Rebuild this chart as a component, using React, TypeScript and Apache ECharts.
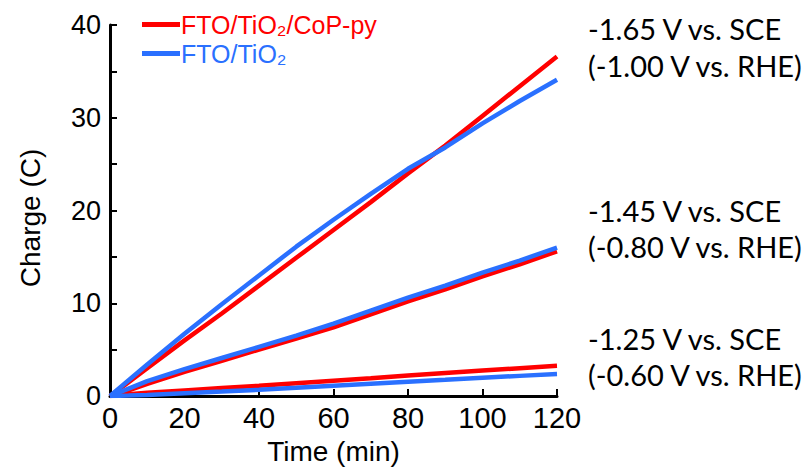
import React, { useEffect, useRef } from "react";
import * as echarts from "echarts";

const times = [0, 5, 10, 20, 30, 40, 50, 60, 70, 80, 90, 100, 110, 120];

// -1.65 V vs. SCE
const copHigh = [0, 1.5, 3.0, 6.0, 8.9, 11.9, 14.9, 17.9, 20.9, 24.0, 27.0, 30.2, 33.4, 36.6];
const tioHigh = [0, 1.7, 3.4, 6.7, 9.9, 13.0, 16.1, 19.0, 21.8, 24.5, 26.8, 29.4, 31.8, 34.1];
// -1.45 V vs. SCE
const copMid = [0, 0.6, 1.3, 2.6, 3.8, 5.0, 6.2, 7.4, 8.8, 10.2, 11.5, 12.9, 14.2, 15.6];
const tioMid = [0, 0.8, 1.6, 2.9, 4.1, 5.3, 6.5, 7.8, 9.2, 10.6, 11.9, 13.3, 14.6, 16.0];
// -1.25 V vs. SCE
const copLow = [0, 0.2, 0.35, 0.6, 0.85, 1.1, 1.38, 1.65, 1.92, 2.2, 2.48, 2.75, 3.0, 3.25];
const tioLow = [0, 0.05, 0.12, 0.3, 0.48, 0.67, 0.88, 1.1, 1.32, 1.54, 1.75, 1.97, 2.17, 2.37];

const seriesNames = ["FTO/TiO₂/CoP-py", "FTO/TiO₂"];
const xTicks = [0, 20, 40, 60, 80, 100, 120];
const yTicks = [0, 10, 20, 30, 40];
const annotations = [
  ["-1.65 V vs. SCE", "(-1.00 V vs. RHE)"],
  ["-1.45 V vs. SCE", "(-0.80 V vs. RHE)"],
  ["-1.25 V vs. SCE", "(-0.60 V vs. RHE)"],
];
const annotationY = [[31, 68], [213, 249], [341, 377]];

const RED = "#ff0000";
const BLUE = "#2a70ff";

const pair = (ys: number[]) => times.map((t, i) => [t, ys[i]]);

export default function App() {
  const ref = useRef<HTMLDivElement>(null);
  useEffect(() => {
    document.body.style.margin = "0";
    const chart = echarts.init(ref.current!, null, { renderer: "svg" });
    const mkLine = (name: string, color: string, ys: number[]) => ({
      name,
      type: "line",
      data: pair(ys),
      showSymbol: false,
      symbol: "none",
      lineStyle: { color, width: 4.5 },
      itemStyle: { color },
    });
    const annText: any[] = [];
    annotations.forEach((lines, gi) => {
      lines.forEach((txt, li) => {
        annText.push({
          type: "text",
          left: 588,
          top: annotationY[gi][li] - 17,
          style: {
            text: txt,
            font: "29px Lato",
            fill: "#000",
          },
        });
      });
    });
    chart.setOption({
      animation: false,
      backgroundColor: "#fff",
      grid: {
        left: 110,
        right: 248,
        top: 25,
        bottom: 72,
        containLabel: false,
        outerBoundsMode: "none",
      },
      legend: {
        orient: "vertical",
        left: 137,
        top: 7,
        itemWidth: 38,
        itemHeight: 5,
        itemGap: 4,
        icon: "rect",
        data: [
          { name: seriesNames[0], textStyle: { color: RED } },
          { name: seriesNames[1], textStyle: { color: BLUE } },
        ],
        textStyle: { fontSize: 25, fontFamily: "Liberation Sans", padding: [0, 0, 0, -4] },
      },
      xAxis: {
        type: "value",
        min: 0,
        max: 120,
        interval: 20,
        name: "Time (min)",
        nameLocation: "middle",
        nameGap: 41,
        nameTextStyle: { fontSize: 28, fontFamily: "Liberation Sans", color: "#000", lineHeight: 28 },
        axisLine: { show: true, onZero: false, lineStyle: { color: "#000", width: 3 } },
        axisTick: { show: true, inside: true, length: 7, lineStyle: { color: "#000", width: 2 } },
        axisLabel: {
          fontSize: 29,
          fontFamily: "Liberation Sans",
          color: "#000",
          margin: 7,
          formatter: (v: number) => (xTicks.includes(v) ? String(v) : ""),
        },
        splitLine: { show: false },
      },
      yAxis: {
        type: "value",
        min: 0,
        max: 40,
        interval: 5,
        axisLine: { show: true, onZero: false, lineStyle: { color: "#000", width: 3 } },
        axisTick: { show: true, inside: true, length: 7, lineStyle: { color: "#000", width: 2 } },
        axisLabel: {
          fontSize: 27,
          fontFamily: "Liberation Sans",
          color: "#000",
          margin: 9,
          formatter: (v: number) => (yTicks.includes(v) ? String(v) : ""),
        },
        splitLine: { show: false },
      },
      graphic: [
        {
          type: "text",
          x: 30,
          y: 218,
          rotation: Math.PI / 2,
          style: {
            text: "Charge (C)",
            font: "28px 'Liberation Sans'",
            fill: "#000",
            align: "center",
            verticalAlign: "middle",
          },
        },
        ...annText,
      ],
      series: [
        mkLine(seriesNames[0], RED, copHigh),
        mkLine(seriesNames[0], RED, copMid),
        mkLine(seriesNames[0], RED, copLow),
        mkLine(seriesNames[1], BLUE, tioHigh),
        mkLine(seriesNames[1], BLUE, tioMid),
        mkLine(seriesNames[1], BLUE, tioLow),
      ],
    });
    return () => chart.dispose();
  }, []);
  return <div ref={ref} style={{ width: 805, height: 468 }} />;
}
